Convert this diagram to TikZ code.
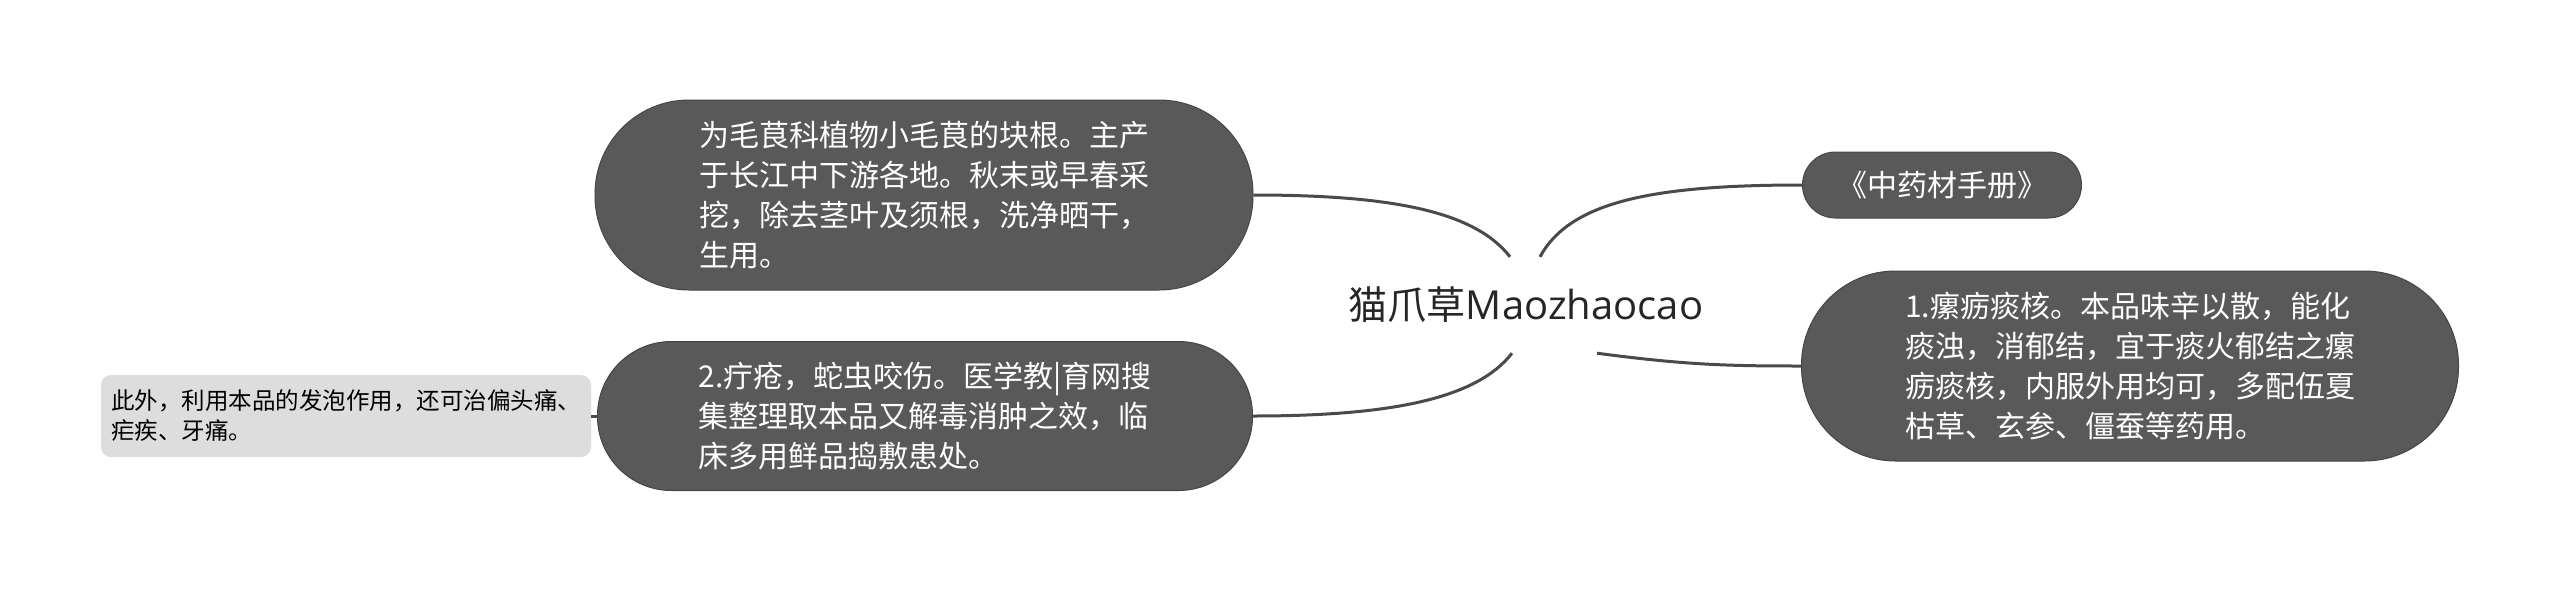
\documentclass[tikz,border=0pt]{standalone}
\usepackage{fontspec}
\newfontfamily\cjk{Noto Sans CJK SC}
\newfontfamily\latinfont{Open Sans}
\usetikzlibrary{calc}
\definecolor{bubble}{HTML}{595959}
\definecolor{bubbleedge}{HTML}{464646}
\definecolor{linkc}{HTML}{4A4A4A}
\definecolor{lightbox}{HTML}{DDDDDD}
\definecolor{maintext}{HTML}{262626}
\tikzset{
  bubblenode/.style={fill=bubble, draw=bubbleedge, line width=1pt, text=white, align=left, inner sep=0pt,
    font=\cjk\fontsize{30}{40}\selectfont},
  notebox/.style={fill=lightbox, draw=none, rounded corners=10pt, text=black, align=left, inner sep=0pt,
    font=\cjk\fontsize{23.5}{30}\selectfont, minimum width=490pt, minimum height=82pt},
  rootnode/.style={text=maintext, inner sep=0pt, minimum height=96pt, font=\cjk\fontsize{39}{44}\selectfont},
  linkline/.style={draw=linkc, line width=3pt},
}
\begin{document}
\begin{tikzpicture}[x=1pt,y=-1pt]
\useasboundingbox[fill=white] (0,0) rectangle (2560,592);

\node[rootnode] (m) at (1526,305) {猫爪草{\latinfont\fontsize{40}{44}\selectfont Maozhaocao}};

\node[bubblenode, rounded corners=94pt, minimum width=658pt, minimum height=190pt] (a) at (924,195)
  {为毛茛科植物小毛茛的块根。主产\\于长江中下游各地。秋末或早春采\\挖，除去茎叶及须根，洗净晒干，\\生用。};

\node[bubblenode, rounded corners=33pt, minimum width=279pt, minimum height=66pt] (b) at (1942,185)
  {《中药材手册》};

\node[bubblenode, rounded corners=94pt, minimum width=657pt, minimum height=190pt] (c) at (2130,366)
  {1.瘰疬痰核。本品味辛以散，能化\\痰浊，消郁结，宜于痰火郁结之瘰\\疬痰核，内服外用均可，多配伍夏\\枯草、玄参、僵蚕等药用。};

\node[bubblenode, rounded corners=74pt, minimum width=655pt, minimum height=149pt] (d) at (925,416)
  {2.疔疮，蛇虫咬伤。医学教|育网搜\\集整理取本品又解毒消肿之效，临\\床多用鲜品捣敷患处。};

\node[notebox] (e) at (346,416)
  {此外，利用本品的发泡作用，还可治偏头痛、\\疟疾、牙痛。};

\coordinate (mA) at ($(m.north)+(-16,0)$);
\coordinate (mB) at ($(m.north)+(14,0)$);
\coordinate (mD) at ($(m.south)+(-14,0)$);
\coordinate (mC) at ($(m.south)+(71,0)$);

\draw[linkline] (a.east) .. controls +(140,0) and +(-35,-45) .. (mA);
\draw[linkline] (mB) .. controls +(30,-55) and +(-150,0) .. (b.west);
\draw[linkline] (d.east) .. controls +(140,0) and +(-35,45) .. (mD);
\draw[linkline] (mC) .. controls +(90,12) and +(-70,0) .. (c.west);
\draw[linkline] (e.east) -- (d.west);
\end{tikzpicture}
\end{document}
